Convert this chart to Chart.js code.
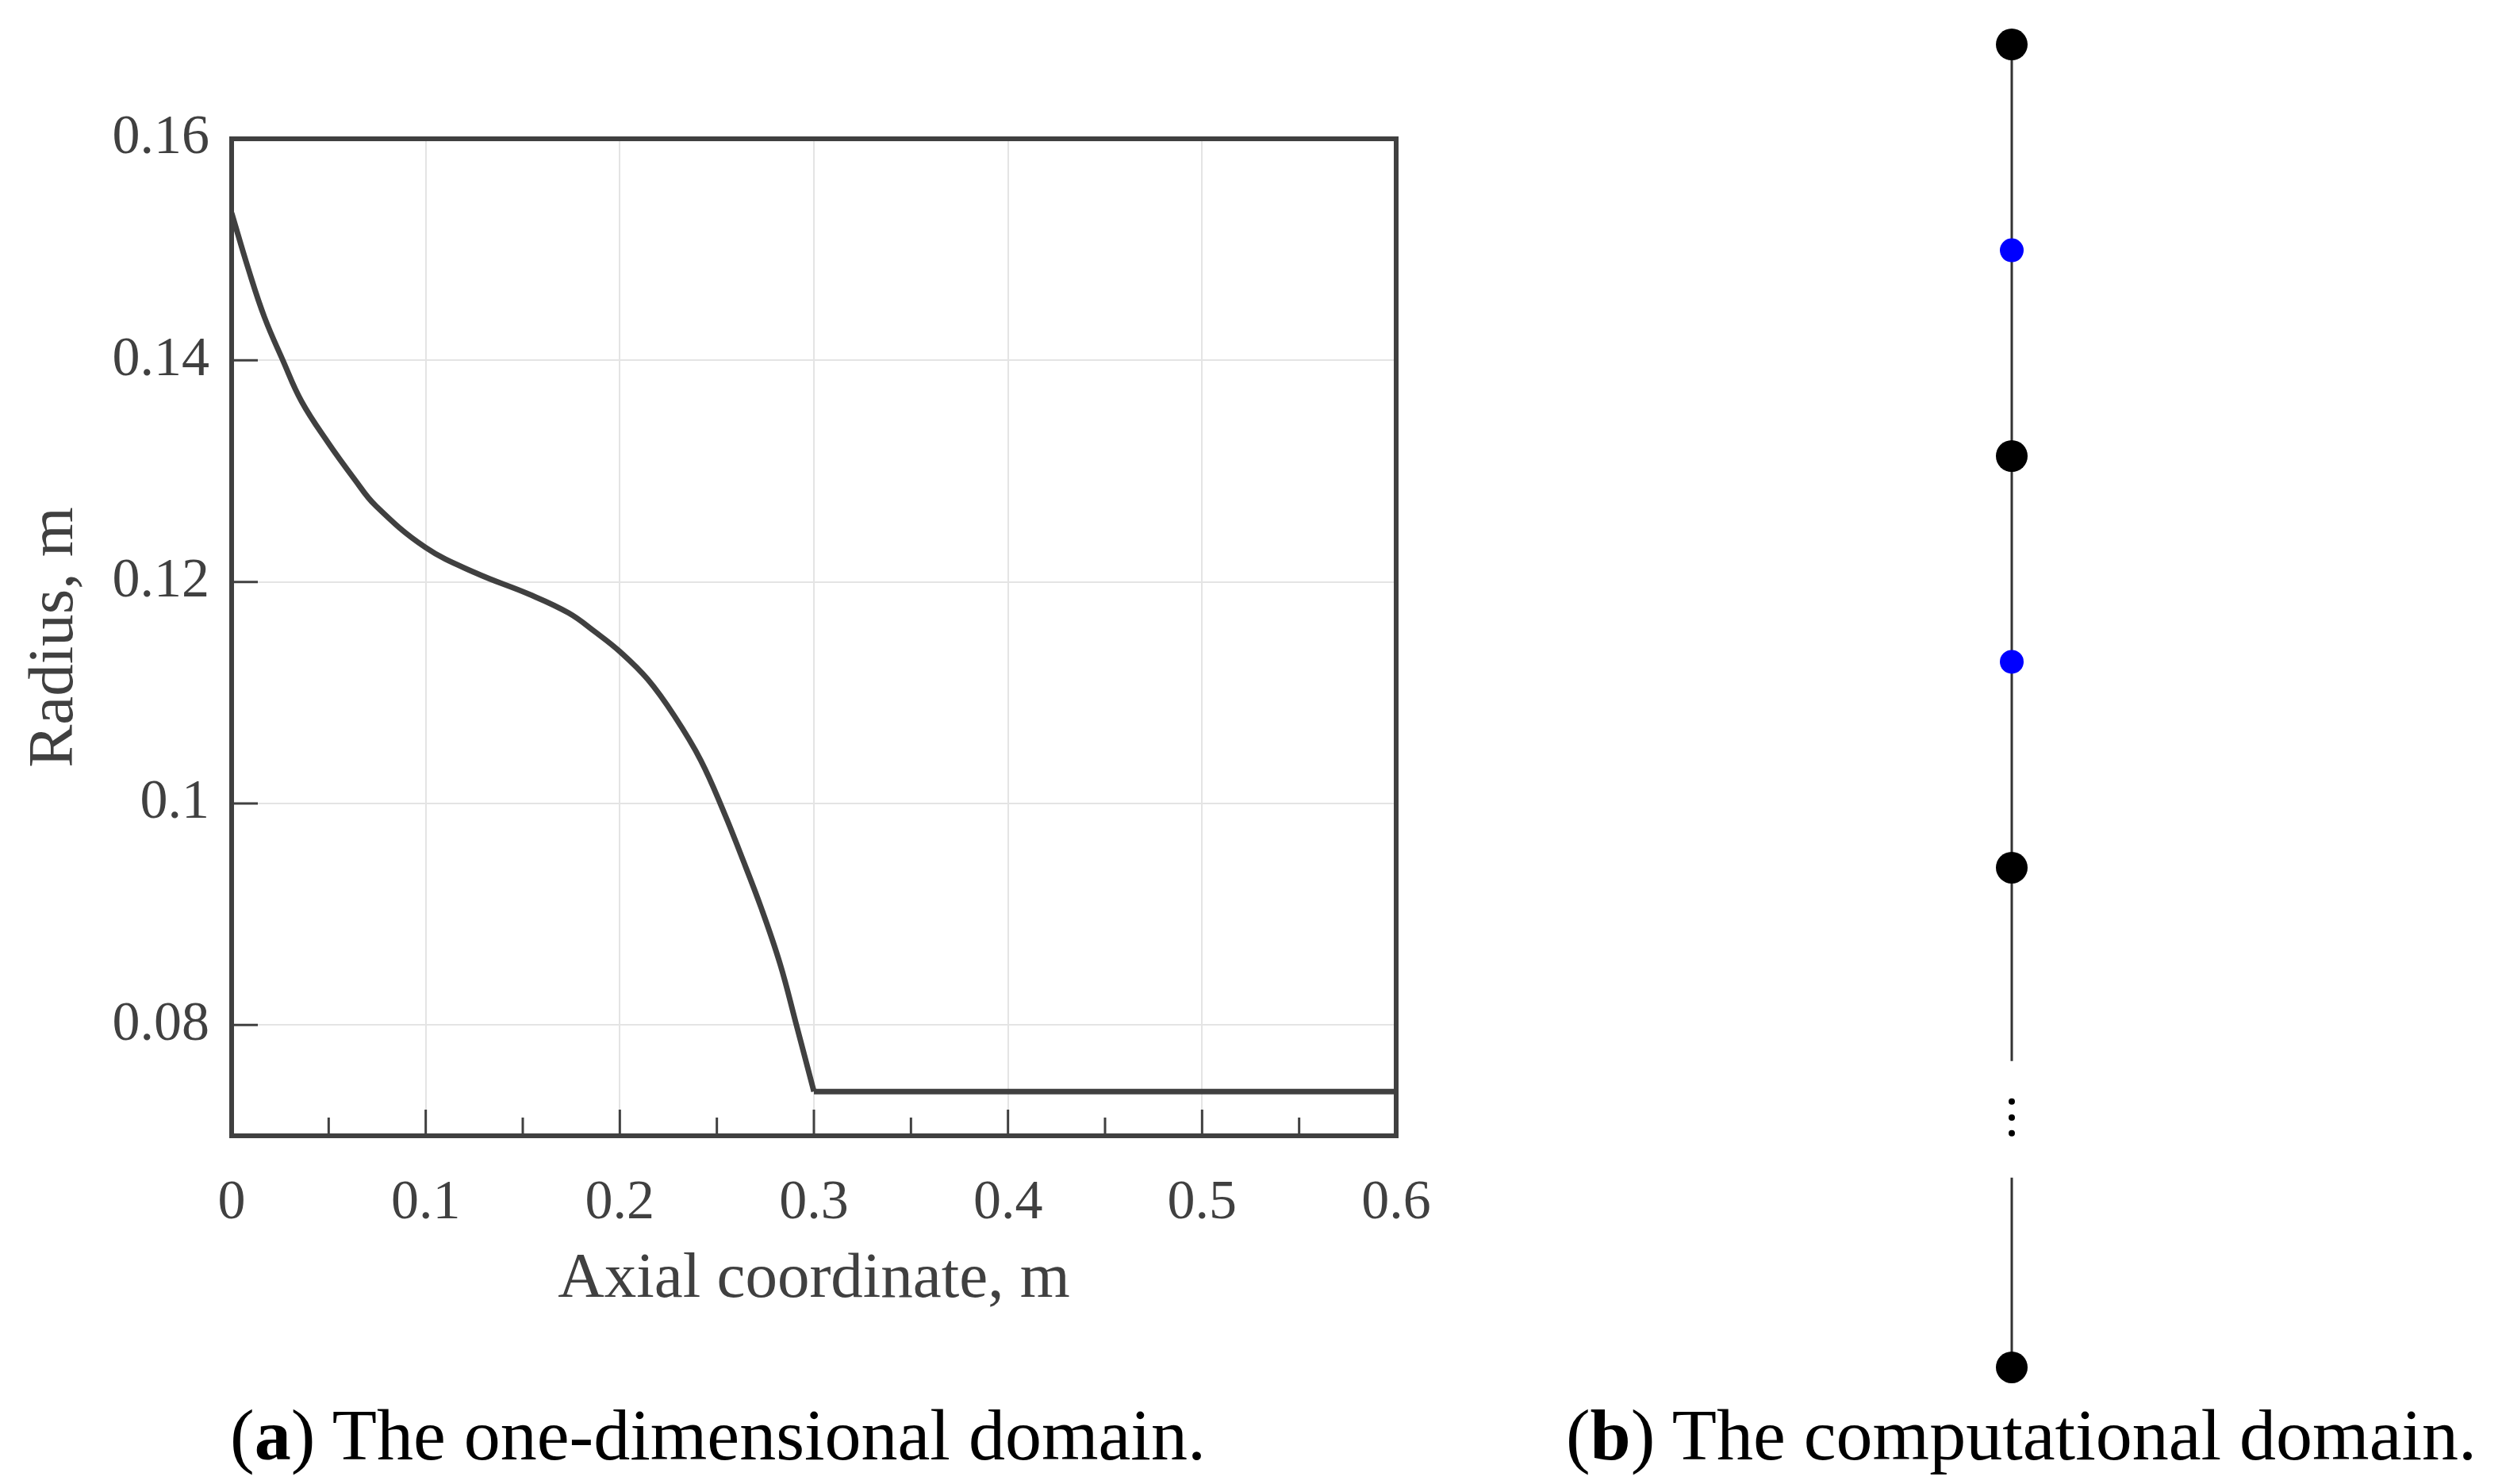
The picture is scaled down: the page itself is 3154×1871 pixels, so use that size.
<!DOCTYPE html>
<html>
<head>
<meta charset="utf-8">
<script src="https://cdn.jsdelivr.net/npm/chart.js@4.4.1/dist/chart.umd.min.js"></script>
<style>
  body { margin: 0; background: #fff; width: 3154px; height: 1871px; position: relative; overflow: hidden; font-family: "Liberation Serif", serif; }
  #leftBox { position: absolute; left: 0; top: 0; width: 1900px; height: 1700px; }
  #rightBox { position: absolute; left: 2436px; top: 0; width: 200px; height: 1780px; }
  .caption { position: absolute; top: 1756px; font-size: 92px; color: #000; white-space: nowrap; transform: translateX(-50%); }
</style>
</head>
<body>
<div id="leftBox"><canvas id="domainChart"></canvas></div>
<div id="rightBox"><canvas id="gridChart"></canvas></div>
<div class="caption" style="left:905px">(<b>a</b>) The one-dimensional domain.</div>
<div class="caption" style="left:2548px">(<b>b</b>) The computational domain.</div>
<script>
// radius profile
const axialCoord = [0, 0.0087, 0.0169, 0.0264, 0.036, 0.0496, 0.0632, 0.0741, 0.10, 0.1259, 0.1531, 0.1736, 0.1872, 0.2001, 0.2144, 0.2281, 0.2417, 0.2539, 0.2621, 0.2730, 0.2826, 0.2907, 0.30, 0.60];
const radius = [0.1533, 0.1482, 0.1439, 0.1400, 0.1363, 0.1326, 0.1293, 0.1269, 0.1231, 0.1208, 0.1189, 0.1172, 0.1155, 0.1137, 0.1112, 0.1079, 0.1039, 0.0991, 0.0955, 0.0905, 0.0855, 0.0802, 0.0740, 0.0740];
const throatX = 0.3; // curved part ends here, straight pipe after

const xTicks = [0, 0.1, 0.2, 0.3, 0.4, 0.5, 0.6];
const xMinorTicks = [0.05, 0.15, 0.25, 0.35, 0.45, 0.55];
const yTicks = [0.08, 0.1, 0.12, 0.14, 0.16];

// computational domain: node positions along the line (0 = top)
const blackNodes = [0, 1, 2, 3.214];
const blueNodes = [0.5, 1.5];
const ellipsisDots = [2.568, 2.607, 2.645];
const upperSegment = [0, 2.47];
const lowerSegment = [2.753, 3.214];

const axisColor = "#404040";

const profile = axialCoord.map((x, i) => ({ x: x, y: radius[i] }));
const curvePart = profile.filter((p) => p.x <= throatX);
const straightPart = profile.filter((p) => p.x >= throatX);

//box + inward ticks like the original plot
const frameAndTicks = {
  id: "frameAndTicks",
  afterDatasetsDraw: (chart) => {
    const ctx = chart.ctx;
    const { left, right, top, bottom } = chart.chartArea;
    const xs = chart.scales.x;
    const ys = chart.scales.y;
    ctx.save();
    ctx.strokeStyle = axisColor;
    ctx.lineWidth = 3;
    xTicks.slice(1, -1).forEach((v) => {
      const px = xs.getPixelForValue(v);
      ctx.beginPath();
      ctx.moveTo(px, bottom);
      ctx.lineTo(px, bottom - 33);
      ctx.stroke();
    });
    xMinorTicks.forEach((v) => {
      const px = xs.getPixelForValue(v);
      ctx.beginPath();
      ctx.moveTo(px, bottom);
      ctx.lineTo(px, bottom - 23);
      ctx.stroke();
    });
    yTicks.slice(0, -1).forEach((v) => {
      const py = ys.getPixelForValue(v);
      ctx.beginPath();
      ctx.moveTo(left, py);
      ctx.lineTo(left + 33, py);
      ctx.stroke();
    });
    ctx.lineWidth = 6;
    ctx.strokeRect(left, top, right - left, bottom - top);
    ctx.restore();
  },
};

new Chart(document.getElementById("domainChart"), {
  type: "line",
  plugins: [frameAndTicks],
  data: {
    datasets: [
      {
        data: curvePart,
        borderColor: axisColor,
        borderWidth: 7,
        pointRadius: 0,
        tension: 0.4,
        fill: false,
      },
      {
        data: straightPart,
        borderColor: axisColor,
        borderWidth: 7,
        pointRadius: 0,
        fill: false,
      },
    ],
  },
  options: {
    responsive: true,
    maintainAspectRatio: false,
    animation: false,
    devicePixelRatio: 1,
    layout: { autoPadding: false, padding: { top: 175, right: 140, left: 0, bottom: 0 } },
    plugins: { legend: { display: false }, tooltip: { enabled: false } },
    scales: {
      x: {
        type: "linear",
        min: 0,
        max: 0.6,
        afterBuildTicks: (axis) => {
          axis.ticks = xTicks.map((v) => ({ value: v }));
        },
        afterFit: (axis) => {
          axis.height = 268;
        },
        border: { display: false },
        grid: { color: "#e4e4e4", lineWidth: 2, drawTicks: false },
        ticks: {
          color: axisColor,
          padding: 44,
          maxRotation: 0,
          font: { family: "Liberation Serif", size: 70 },
          callback: (v) => String(v),
        },
        title: {
          display: true,
          text: "Axial coordinate, m",
          color: axisColor,
          font: { family: "Liberation Serif", size: 81 },
          padding: { top: 0, bottom: 38 },
        },
      },
      y: {
        type: "linear",
        min: 0.07,
        max: 0.16,
        afterBuildTicks: (axis) => {
          axis.ticks = yTicks.map((v) => ({ value: v }));
        },
        afterFit: (axis) => {
          axis.width = 292;
        },
        border: { display: false },
        grid: { color: "#e4e4e4", lineWidth: 2, drawTicks: false },
        ticks: {
          color: axisColor,
          padding: 28,
          font: { family: "Liberation Serif", size: 70 },
          callback: (v) => String(v),
        },
        title: {
          display: true,
          text: "Radius, m",
          color: axisColor,
          font: { family: "Liberation Serif", size: 81 },
          padding: { top: 21, bottom: 0 },
        },
      },
    },
  },
});

new Chart(document.getElementById("gridChart"), {
  type: "scatter",
  data: {
    datasets: [
      {
        data: blackNodes.map((y) => ({ x: 0, y: y })),
        backgroundColor: "#000",
        borderWidth: 0,
        pointRadius: 20,
        order: 0,
      },
      {
        data: blueNodes.map((y) => ({ x: 0, y: y })),
        backgroundColor: "#0000ff",
        borderWidth: 0,
        pointRadius: 15,
        order: 0,
      },
      {
        data: ellipsisDots.map((y) => ({ x: 0, y: y })),
        backgroundColor: "#000",
        borderWidth: 0,
        pointRadius: 4,
        order: 0,
      },
      {
        type: "line",
        data: upperSegment.map((y) => ({ x: 0, y: y })),
        borderColor: "#333",
        borderWidth: 3,
        pointRadius: 0,
        order: 1,
      },
      {
        type: "line",
        data: lowerSegment.map((y) => ({ x: 0, y: y })),
        borderColor: "#333",
        borderWidth: 3,
        pointRadius: 0,
        order: 1,
      },
    ],
  },
  options: {
    responsive: true,
    maintainAspectRatio: false,
    animation: false,
    devicePixelRatio: 1,
    layout: { autoPadding: false, padding: 0 },
    plugins: { legend: { display: false }, tooltip: { enabled: false } },
    scales: {
      x: { type: "linear", min: -1, max: 1, display: false },
      y: { type: "linear", min: -0.108, max: 3.322, reverse: true, display: false },
    },
  },
});
</script>
</body>
</html>
